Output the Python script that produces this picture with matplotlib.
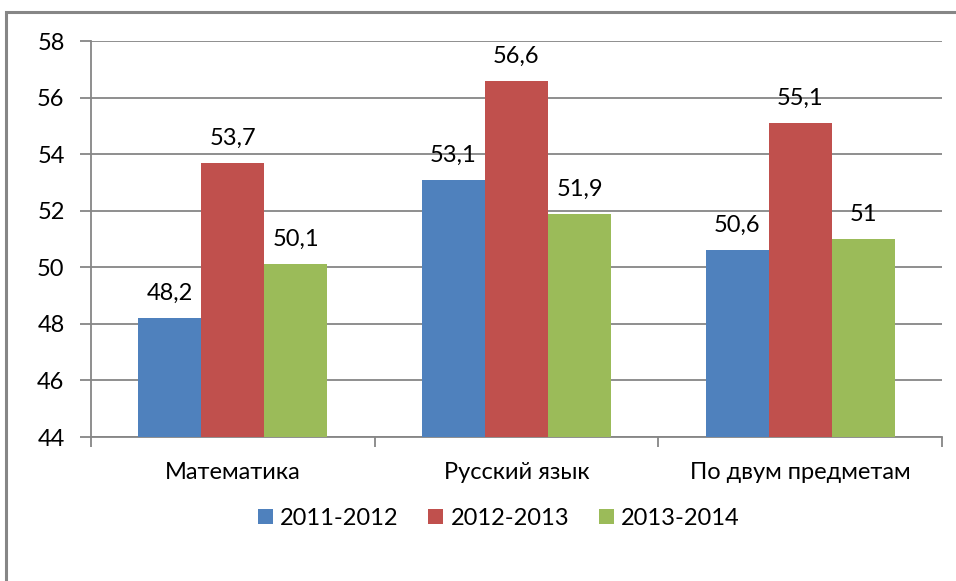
import numpy as np
import matplotlib.pyplot as plt
from matplotlib.patches import Rectangle

plt.rcParams['font.family'] = ['Lato', 'DejaVu Sans']

categories = ["Математика", "Русский язык", "По двум предметам"]
years = ["2011-2012", "2012-2013", "2013-2014"]
v2011 = [48.2, 53.1, 50.6]
v2012 = [53.7, 56.6, 55.1]
v2013 = [50.1, 51.9, 51.0]
colors = ["#4F81BD", "#C0504D", "#9BBB59"]

grey = "#868686"
fs = 17

fig = plt.figure(figsize=(9.56, 5.81), dpi=100)
ax = fig.add_axes([91/956, 1 - 437/581, (942 - 91)/956, (437 - 41)/581])

x = np.arange(len(categories))
w = 1 / 4.5
for i, (vals, lab, c) in enumerate(zip([v2011, v2012, v2013], years, colors)):
    ax.bar(x + (i - 1) * w, np.array(vals) - 44, w, bottom=44,
           color=c, label=lab, zorder=3)
    for xb, v in zip(x + (i - 1) * w, vals):
        txt = f"{v:g}".replace(".", ",")
        ax.text(xb, v + 0.5, txt, ha="center", va="bottom", fontsize=fs)

ax.set_ylim(44, 58)
ax.set_xlim(-0.5, 2.5)
ax.set_yticks(range(44, 59, 2))
ax.yaxis.grid(True, color=grey, linewidth=1.3, zorder=0)
ax.set_axisbelow(True)
for s in ["top", "right"]:
    ax.spines[s].set_visible(False)
ax.spines["left"].set_color(grey)
ax.spines["bottom"].set_color(grey)
ax.spines["left"].set_linewidth(1.3)
ax.spines["bottom"].set_linewidth(1.3)

ax.set_xticks([-0.5, 0.5, 1.5, 2.5])
ax.set_xticklabels([])
ax.set_xticks(x, minor=True)
ax.set_xticklabels(categories, minor=True, fontsize=fs)
ax.tick_params(axis="x", which="minor", length=0, pad=18)
ax.tick_params(axis="x", which="major", length=7, color=grey, width=1.3)
ax.tick_params(axis="y", length=8, color=grey, width=1.3, labelsize=fs, pad=11)

ax.legend(loc="center", bbox_to_anchor=(0.479, -0.205), ncol=3, frameon=False,
          fontsize=fs, handlelength=0.65, handleheight=0.65, handletextpad=0.3,
          columnspacing=1.25)

fig.patches.append(Rectangle((6/956, -0.1), 1.2, 1 - 12/581 + 0.1,
                             transform=fig.transFigure, fill=False,
                             edgecolor=grey, linewidth=2.2))

fig.savefig("out.png", dpi=100)
